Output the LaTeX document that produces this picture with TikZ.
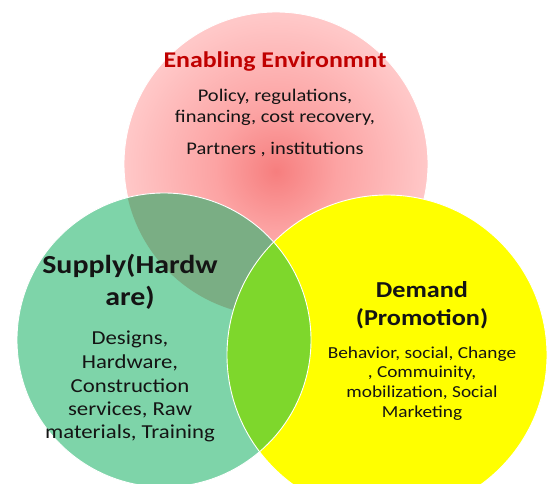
\documentclass[tikz,border=0pt]{standalone}
\usepackage{fontspec}
\setmainfont{Carlito}[FakeStretch=1.15]
\definecolor{pinkout}{RGB}{255,200,200}
\definecolor{pinkmid}{RGB}{252,163,163}
\definecolor{pinkin}{RGB}{246,126,126}
\definecolor{grn}{RGB}{126,212,169}
\definecolor{grnred}{RGB}{122,174,132}
\definecolor{ylw}{RGB}{255,255,0}
\definecolor{limec}{RGB}{126,215,44}
\definecolor{titred}{RGB}{192,0,0}
\definecolor{txt}{RGB}{20,20,20}
\pgfdeclareradialshading{redglow}{\pgfpoint{0bp}{-1.2bp}}{color(0bp)=(pinkin); color(10bp)=(pinkmid); color(25bp)=(pinkout); color(50bp)=(pinkout)}
\begin{document}
\begin{tikzpicture}[x=1pt,y=-1pt,
  rim/.style={draw=white, line width=0.9pt},
  envtitle/.style={font=\fontsize{22.5}{27}\selectfont\bfseries, text=titred, anchor=base, inner sep=0pt},
  envbody/.style={font=\fontsize{17.8}{21}\selectfont, text=txt, anchor=base, inner sep=0pt},
  suptitle/.style={font=\fontsize{26}{32}\selectfont\bfseries, text=txt, anchor=base, inner sep=0pt},
  supbody/.style={font=\fontsize{19.8}{23.5}\selectfont, text=txt, anchor=base, inner sep=0pt},
  demtitle/.style={font=\fontsize{22.8}{28}\selectfont\bfseries, text=txt, anchor=base, inner sep=0pt},
  dembody/.style={font=\fontsize{16.8}{20}\selectfont, text=txt, anchor=base, inner sep=0pt}]
\useasboundingbox (0,0) rectangle (552,484);
\clip (0,0) rectangle (552,484);
\coordinate (cr) at (276,164);
\coordinate (cg) at (164,340);
\coordinate (cy) at (387,355);
% red circle
\shade[shading=redglow] (cr) circle[radius=152];
\draw[rim] (cr) circle[radius=152];
% green circle
\fill[grn] (cg) circle[radius=147];
\begin{scope}
  \clip (cg) circle[radius=147];
  \fill[grnred] (cr) circle[radius=152];
\end{scope}
% yellow circle
\fill[ylw] (cy) circle[radius=160];
\begin{scope}
  \clip (cg) circle[radius=147];
  \fill[limec] (cy) circle[radius=160];
\end{scope}
\draw[rim] (cg) circle[radius=147];
\draw[rim] (cy) circle[radius=160];
% texts
\node[envtitle] (e0) at (275,68) {Enabling Environmnt};
\node[envbody] (e1) at (275,102) {Policy, regulations,};
\node[envbody] (e2) at (275,123) {financing, cost recovery,};
\node[envbody] (e3) at (275,155) {Partners , institutions};
\node[suptitle] (s0) at (130,273) {Supply(Hardw};
\node[suptitle] (s1) at (130,305) {are)};
\node[supbody] (s2) at (130,344) {Designs,};
\node[supbody] (s3) at (130,368) {Hardware,};
\node[supbody] (s4) at (130,392) {Construction};
\node[supbody] (s5) at (130,415) {services, Raw};
\node[supbody] (s6) at (130,438) {materials, Training};
\node[demtitle] (d0) at (422,297) {Demand};
\node[demtitle] (d1) at (422,325) {(Promotion)};
\node[dembody] (d2) at (422,358) {Behavior, social, Change};
\node[dembody] (d3) at (422,377) {, Commuinity,};
\node[dembody] (d4) at (422,397) {mobilization, Social};
\node[dembody] (d5) at (422,417) {Marketing};
\end{tikzpicture}
\end{document}
